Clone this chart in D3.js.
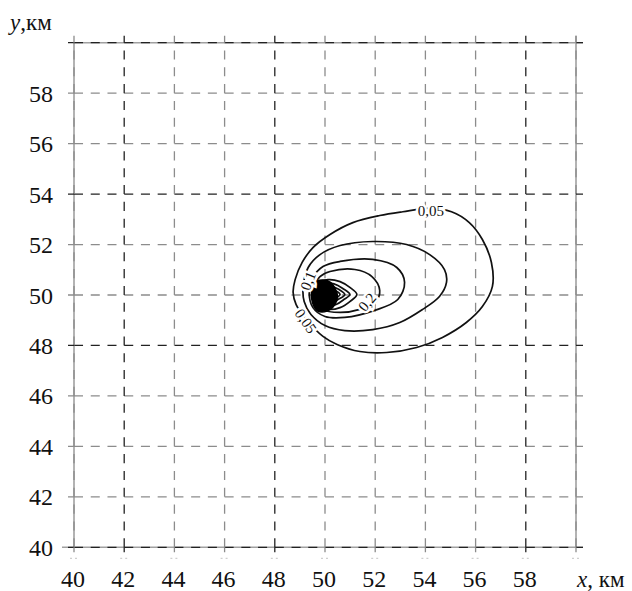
<!DOCTYPE html>
<html>
<head>
<meta charset="utf-8">
<script src="https://cdn.jsdelivr.net/npm/d3@7"></script>
<style>
	body { margin: 0; background: #fff; }
	svg text { fill: #111; }
</style>
</head>
<body>
<div id="chart"></div>
<script>
// tick values (km)
const xTicks = [40, 42, 44, 46, 48, 50, 52, 54, 56, 58, 60];
const yTicks = [40, 42, 44, 46, 48, 50, 52, 54, 56, 58, 60];
const xTickLabels = ["40", "42", "44", "46", "48", "50", "52", "54", "56", "58"];
const yTickLabels = ["40", "42", "44", "46", "48", "50", "52", "54", "56", "58"];
// grid lines printed darker in the scan
const darkX = [42, 48, 58];
const darkY = [40, 48, 54, 60];

// contour rings, [x km, y km]
const ring005 = [[53.10, 53.30], [54.17, 53.43], [55.04, 53.30], [55.75, 52.87], [56.27, 52.20], [56.63, 51.29],
	[56.67, 50.34], [56.27, 49.54], [55.63, 48.91], [54.68, 48.32], [53.65, 47.92], [52.46, 47.72], [51.39, 47.76],
	[50.48, 48.04], [49.92, 48.36], [49.29, 48.99], [48.85, 49.62], [48.73, 50.10], [48.81, 50.61], [49.09, 51.29],
	[49.52, 51.88], [50.20, 52.40], [51.11, 52.87], [52.18, 53.15]];
const ring01 = [[49.13, 50.34], [49.33, 51.09], [49.80, 51.60], [50.60, 51.96], [51.90, 52.12], [53.25, 52.00],
	[54.17, 51.60], [54.76, 51.01], [54.84, 50.50], [54.56, 49.94], [53.89, 49.43], [52.98, 48.91], [51.90, 48.63],
	[50.79, 48.59], [50.00, 48.79], [49.44, 49.23], [49.17, 49.74]];
const ring015 = [[50.60, 51.33], [51.90, 51.41], [52.86, 51.09], [53.17, 50.50], [52.90, 49.82], [51.98, 49.39],
	[50.79, 49.11], [50.00, 49.15], [49.52, 49.50], [49.37, 50.10], [49.52, 50.69], [49.92, 51.13]];
const ring02 = [[50.20, 50.93], [51.19, 51.01], [51.87, 50.73], [52.18, 50.18], [52.02, 49.74], [51.39, 49.43],
	[50.60, 49.31], [49.88, 49.43], [49.56, 49.82], [49.56, 50.34], [49.80, 50.73]];
const ring03 = [[51.27, 50.02], [50.99, 50.30], [50.60, 50.53], [50.12, 50.61], [49.72, 50.46], [49.52, 50.02],
	[49.72, 49.58], [50.12, 49.43], [50.60, 49.50], [50.99, 49.74]];
const ring04 = [[50.99, 50.02], [50.71, 50.26], [50.36, 50.44], [49.96, 50.46], [49.64, 50.18], [49.72, 49.74],
	[50.04, 49.54], [50.44, 49.62], [50.75, 49.82]];
const ring05 = [[50.79, 50.02], [50.56, 50.22], [50.24, 50.34], [49.88, 50.34], [49.68, 50.06], [49.80, 49.78],
	[50.16, 49.66], [50.52, 49.82]];
const ring07 = [[50.60, 50.02], [50.40, 50.18], [50.12, 50.26], [49.84, 50.18], [49.84, 49.86], [50.12, 49.74],
	[50.40, 49.86]];
// dense centre where the lines run together
const core = [[49.46, 50.14], [49.58, 50.48], [49.88, 50.59], [50.22, 50.50], [50.42, 50.22], [50.50, 49.94],
	[50.38, 49.60], [50.08, 49.36], [49.70, 49.37], [49.50, 49.70]];

// contour labels: text, x km, y km, angle
const labelText = ["0,05", "0,1", "0,2", "0,05"];
const labelX = [54.22, 49.32, 51.67, 49.24];
const labelY = [53.33, 50.56, 49.72, 48.97];
const labelAngle = [0, -68, -50, 55];

const width = 632, height = 591;
const x = d3.scaleLinear().domain([40, 60]).range([74, 576]);
const y = d3.scaleLinear().domain([40, 60]).range([547.3, 42.7]);

const svg = d3.select("#chart").append("svg")
	.attr("width", width)
	.attr("height", height)
	.attr("font-family", "'Liberation Serif', 'Times New Roman', Times, serif");

const gray = "#8c8c8c", dark = "#222";
const colX = v => darkX.includes(v) ? dark : gray;
const colY = v => darkY.includes(v) ? dark : gray;

// solid frame underneath
const frame = svg.append("g").attr("stroke", "#a0a0a0").attr("stroke-width", 1.6);
frame.append("line").attr("x1", x(40)).attr("x2", x(40)).attr("y1", y(60)).attr("y2", y(40));
frame.append("line").attr("x1", x(60)).attr("x2", x(60)).attr("y1", y(60) - 7).attr("y2", y(40));
frame.append("line").attr("x1", x(40)).attr("x2", x(60) + 7).attr("y1", y(60)).attr("y2", y(60));
frame.append("line").attr("x1", x(40) - 12).attr("x2", x(60) + 7).attr("y1", y(40)).attr("y2", y(40));

// dashed grid, 3 dashes per cell, dash starts at each crossing
const cellX = x(42) - x(40), cellY = y(40) - y(42);
const grid = svg.append("g").attr("fill", "none").attr("stroke-width", 1.3);

grid.selectAll(".hline")
	.data(yTicks)
	.enter().append("path")
	.attr("class", "hline")
	.attr("stroke", d => colY(d))
	.attr("stroke-dasharray", (cellX / 3 * 0.54) + "," + (cellX / 3 * 0.46))
	.attr("d", d => "M" + x(40) + "," + y(d) + "H" + x(60));

grid.selectAll(".vline")
	.data(xTicks)
	.enter().append("path")
	.attr("class", "vline")
	.attr("stroke", d => colX(d))
	.attr("stroke-dasharray", (cellY / 3 * 0.54) + "," + (cellY / 3 * 0.46))
	.attr("d", d => "M" + x(d) + "," + y(40) + "V" + y(60));

// short ticks outside the frame
grid.selectAll(".ltick")
	.data(yTicks)
	.enter().append("path")
	.attr("stroke", d => colY(d))
	.attr("d", d => "M" + (x(40) - 6) + "," + y(d) + "H" + x(40) + "M" + x(60) + "," + y(d) + "H" + (x(60) + 7));

grid.selectAll(".btick")
	.data(xTicks)
	.enter().append("path")
	.attr("stroke", d => colX(d))
	.attr("d", d => "M" + x(d) + "," + y(40) + "V" + (y(40) + 5) + "M" + x(d) + "," + (y(60) - 7) + "V" + y(60));

// faint marks under the bottom axis
svg.append("g").selectAll("path")
	.data(xTicks)
	.enter().append("path")
	.attr("stroke", "#c4c4c4")
	.attr("stroke-width", 1)
	.attr("stroke-dasharray", "2,3")
	.attr("d", d => "M" + (x(d) - 4) + "," + (y(40) + 11) + "H" + (x(d) + 4));

// tick labels
svg.append("g").selectAll("text")
	.data(xTickLabels)
	.enter().append("text")
	.attr("x", d => x(+d) - 1)
	.attr("y", 587)
	.attr("text-anchor", "middle")
	.style("font-size", "24px")
	.text(d => d);

svg.append("g").selectAll("text")
	.data(yTickLabels)
	.enter().append("text")
	.attr("x", 53)
	.attr("y", d => y(+d) + 8.5)
	.attr("text-anchor", "end")
	.style("font-size", "24px")
	.text(d => d);

// axis titles
const yt = svg.append("text").attr("x", 10).attr("y", 30).style("font-size", "23px");
yt.append("tspan").style("font-style", "italic").text("y");
yt.append("tspan").text(",км");

const xt = svg.append("text").attr("x", 577).attr("y", 587).style("font-size", "23px");
xt.append("tspan").style("font-style", "italic").text("x");
xt.append("tspan").text(", км");

// contours
const line = d3.line()
	.x(d => x(d[0]))
	.y(d => y(d[1]))
	.curve(d3.curveCatmullRomClosed.alpha(0.5));

const rings = [ring005, ring01, ring015, ring02, ring03, ring04, ring05, ring07];
svg.append("g").selectAll("path")
	.data(rings)
	.enter().append("path")
	.attr("fill", "none")
	.attr("stroke", "#111")
	.attr("stroke-width", 1.7)
	.attr("d", line);

svg.append("path")
	.datum(core)
	.attr("fill", "#000")
	.attr("stroke", "#000")
	.attr("stroke-width", 1.5)
	.attr("d", line);

// contour labels with a white halo to break the line
svg.append("g").selectAll("text")
	.data(labelText)
	.enter().append("text")
	.attr("transform", (d, i) => "translate(" + x(labelX[i]) + "," + y(labelY[i]) + ") rotate(" + labelAngle[i] + ")")
	.attr("text-anchor", "middle")
	.attr("dy", "0.35em")
	.style("font-size", "15px")
	.style("stroke", "#fff")
	.style("stroke-width", 5)
	.style("paint-order", "stroke")
	.text(d => d);
</script>
</body>
</html>
